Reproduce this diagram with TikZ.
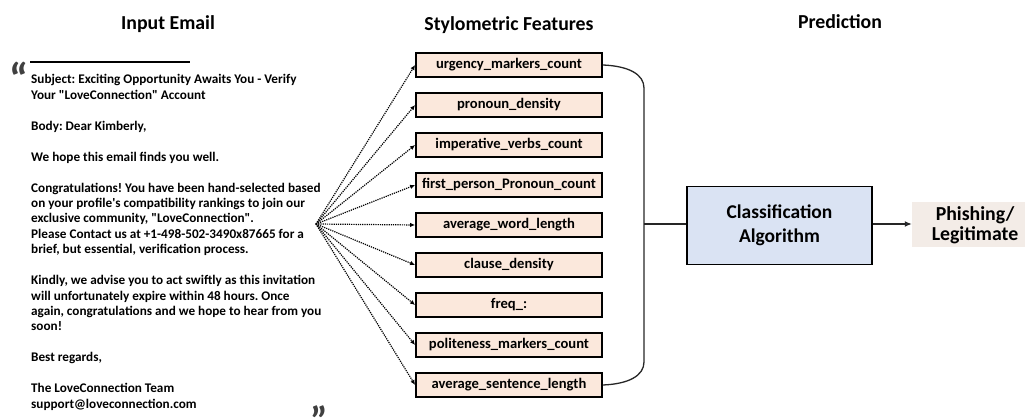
\documentclass[tikz,border=0pt]{standalone}
\usepackage{fontspec}
\setmainfont{Carlito}[Ligatures=TeXOff]
\usetikzlibrary{arrows.meta}
\frenchspacing
\definecolor{featfill}{HTML}{FBE8DC}
\definecolor{algfill}{HTML}{DAE3F3}
\definecolor{outfill}{HTML}{F3ECE7}
\definecolor{tipblue}{HTML}{2E4A6B}
\definecolor{linegray}{HTML}{262626}
\begin{document}
\begin{tikzpicture}[x=1pt,y=-1pt,
  title/.style={font=\fontsize{19.8}{22}\selectfont\bfseries, anchor=base},
  mailline/.style={font=\fontsize{13.2}{15}\selectfont\bfseries, anchor=base west, inner sep=0pt},
  quotemark/.style={font=\fontsize{44}{44}\selectfont\bfseries, text=black!75, anchor=base, inner sep=0pt},
  feat/.style={draw=black, line width=1.8pt, fill=featfill, minimum width=186pt, minimum height=24pt,
    inner sep=0pt, font=\fontsize{14.6}{16}\selectfont\bfseries},
  fan/.style={densely dotted, line width=1.2pt, -{Latex[length=5pt,width=4.5pt]}},
  bracket/.style={line width=1.3pt, draw=linegray},
]
\useasboundingbox (0,0) rectangle (1025,419);

% column headings
\node[title] (h1) at (168,30) {Input Email};
\node[title] (h2) at (509,31) {Stylometric Features};
\node[title] (h3) at (840,29) {Prediction};

% the email text between quotation marks
\node[quotemark] (qopen) at (19,74.5) {\raisebox{-20pt}[0pt][0pt]{“}};
\draw[line width=2pt] (30,62) -- (190,62);
\foreach \i/\t in {
  0/{Subject: Exciting Opportunity Awaits You - Verify},
  1/{Your "LoveConnection" Account},
  3/{Body: Dear Kimberly,},
  5/{We hope this email finds you well.},
  7/{Congratulations! You have been hand-selected based},
  8/{on your profile's compatibility rankings to join our},
  9/{exclusive community, "LoveConnection".},
  10/{Please Contact us at +1-498-502-3490x87665 for a},
  11/{brief, but essential, verification process.},
  13/{Kindly, we advise you to act swiftly as this invitation},
  14/{will unfortunately expire within 48 hours. Once},
  15/{again, congratulations and we hope to hear from you},
  16/{soon!},
  18/{Best regards,},
  20/{The LoveConnection Team},
  21/{support@loveconnection.com}}
  \node[mailline] (line\i) at (31,{84+15.43*\i}) {\t};
\node[quotemark, font=\fontsize{40}{40}\selectfont\bfseries] (qclose) at (319,411) {„};

% feature boxes, each fed from the email
\coordinate (src) at (316,224);
\foreach \n/\t [count=\k from 0] in {
  f1/{urgency\_markers\_count},
  f2/{pronoun\_density},
  f3/{imperative\_verbs\_count},
  f4/{first\_person\_Pronoun\_count},
  f5/{average\_word\_length},
  f6/{clause\_density},
  f7/{freq\_:},
  f8/{politeness\_markers\_count},
  f9/{average\_sentence\_length}}
{
  \node[feat] (\n) at (509,{65+40*\k}) {\t};
  \draw[fan] (src) -- (\n.west);
}

% bracket gathering the features
\coordinate (mid) at (644,224);
\draw[bracket] (f1.east) .. controls (628,66) and (644,74) .. (644,88)
  -- (644,362) .. controls (644,376) and (628,384) .. (f9.east);

% classifier and output
\node[draw=black, line width=1.8pt, fill=algfill, minimum width=185pt, minimum height=78pt,
  align=center, font=\fontsize{19.5}{24}\selectfont\bfseries] (alg) at (779.5,225.5)
  {Classification\\Algorithm};
\node[fill=outfill, minimum width=113pt, minimum height=45pt, inner sep=0pt] (out) at (968.5,224.5) {};
\node[align=center, inner sep=0pt, font=\fontsize{19.8}{20}\selectfont\bfseries] (outtext) at (975,225)
  {Phishing/\\Legitimate};
\draw[bracket] (mid) -- (alg.west |- mid);
\draw[bracket, -{Latex[length=7pt,width=6pt,fill=tipblue]}] (alg.east |- mid) -- (out.west |- mid);
\end{tikzpicture}
\end{document}
